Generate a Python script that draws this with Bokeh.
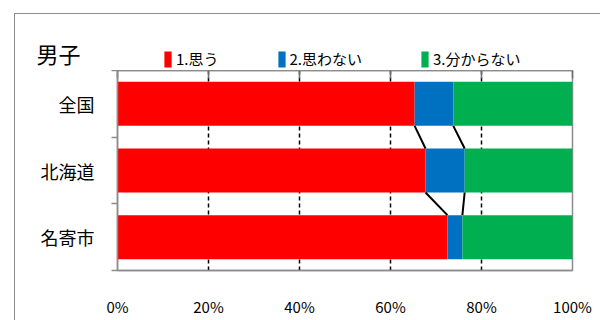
from bokeh.plotting import figure
from bokeh.layouts import column
from bokeh.models import (ColumnDataSource, Range1d, FixedTicker, LinearAxis, Legend, LegendItem,
                          Label, InlineStyleSheet, Plot)
from bokeh.embed import file_html
from bokeh.resources import INLINE

# ---- data ----
categories = ["全国", "北海道", "名寄市"]
series_names = ["1.思う", "2.思わない", "3.分からない"]
omou = [65.3, 67.7, 72.5]
omowanai = [8.5, 8.6, 3.3]
wakaranai = [26.2, 23.7, 24.2]
colors = ["#FF0000", "#0070C0", "#00B050"]
x_ticks = [0, 20, 40, 60, 80, 100]
x_tick_labels = ["0%", "20%", "40%", "60%", "80%", "100%"]
chart_title = "男子"

FONT = "Noto Sans CJK JP"
BAR_H = 0.66
TOP_H = 70

ypos = [i + 0.5 for i in range(len(categories))]
src = ColumnDataSource(dict(y=ypos, s0=omou, s1=omowanai, s2=wakaranai))

# ---------------- header strip: title + legend ----------------
head = figure(width=600, height=TOP_H, output_backend="svg", toolbar_location=None,
              x_range=Range1d(0, 600), y_range=Range1d(TOP_H, 0),
              min_border=0, min_border_left=0, min_border_right=0,
              min_border_top=0, min_border_bottom=0,
              x_axis_location=None, y_axis_location=None)
head.xgrid.visible = False
head.ygrid.visible = False
head.outline_line_color = None
head.background_fill_alpha = 0
head.border_fill_alpha = 0

# hidden renderers that only supply the legend keys
key_renderers = head.hbar_stack(["s0", "s1", "s2"], y="y", height=BAR_H, source=src,
                                color=colors, line_color=None, visible=False)
lg = Legend(items=[LegendItem(label=n, renderers=[r]) for n, r in zip(series_names, key_renderers)],
            orientation="horizontal", location=(163, TOP_H - 69), click_policy="none",
            glyph_width=9, glyph_height=20, label_standoff=4, spacing=58, padding=0, margin=0,
            border_line_color=None, background_fill_alpha=0,
            label_text_font=FONT, label_text_font_size="15px", label_text_color="black")
head.add_layout(lg, "center")
head.add_layout(Label(x=36, y=52, text=chart_title, text_font=FONT, text_font_size="22px",
                      text_align="left", text_baseline="middle", text_color="black"))

# ---------------- main chart ----------------
fig = figure(width=600, height=320 - TOP_H, output_backend="svg", toolbar_location=None,
             x_range=Range1d(0, 100), y_range=Range1d(len(categories), 0),
             min_border_left=117, min_border_right=28, min_border_top=0, min_border_bottom=50,
             x_axis_location=None, y_axis_location=None)
fig.background_fill_color = "white"
fig.border_fill_alpha = 0
fig.outline_line_color = "#8c8c8c"
fig.outline_line_width = 1.5

fig.hbar_stack(["s0", "s1", "s2"], y="y", height=BAR_H, source=src,
               color=colors, line_color=None)

# connector (series) lines between bars
cum1 = list(omou)
cum2 = [a + b for a, b in zip(omou, omowanai)]
for cum in (cum1, cum2):
    fig.segment(x0=cum[:-1], y0=[y + BAR_H / 2 for y in ypos[:-1]],
                x1=cum[1:], y1=[y - BAR_H / 2 for y in ypos[1:]],
                line_color="black", line_width=2)

# grid
fig.ygrid.visible = False
fig.xgrid.ticker = FixedTicker(ticks=x_ticks[1:])
fig.xgrid.grid_line_color = "black"
fig.xgrid.grid_line_dash = "4 3"
fig.xgrid.grid_line_width = 1.5

# bottom axis (labels only)
xb = LinearAxis(ticker=FixedTicker(ticks=x_ticks),
                major_label_overrides={t: l for t, l in zip(x_ticks, x_tick_labels)})
xb.axis_line_color = "#8c8c8c"
xb.axis_line_width = 1.5
xb.major_tick_line_color = None
xb.major_tick_out = 0
xb.major_tick_in = 0
xb.minor_tick_line_color = None
xb.major_label_standoff = 25
xb.major_label_text_font = FONT
xb.major_label_text_font_size = "15px"
xb.major_label_text_color = "black"
fig.add_layout(xb, "below")

# top axis (line + ticks)
xt = LinearAxis(ticker=FixedTicker(ticks=x_ticks))
xt.axis_line_color = "#8c8c8c"
xt.axis_line_width = 1.5
xt.major_tick_line_color = "#6e6e6e"
xt.major_tick_line_width = 1.5
xt.major_tick_in = 8
xt.major_tick_out = 0
xt.minor_tick_line_color = None
xt.major_label_text_font_size = "0px"
xt.major_label_text_color = None
xt.major_label_standoff = 0
fig.add_layout(xt, "above")

# left axis (category labels)
ya = LinearAxis(ticker=FixedTicker(ticks=ypos, minor_ticks=list(range(len(categories) + 1))),
                major_label_overrides={y: c for y, c in zip(ypos, categories)})
ya.axis_line_color = "#8c8c8c"
ya.axis_line_width = 1.5
ya.major_tick_line_color = None
ya.major_tick_out = 0
ya.major_tick_in = 0
ya.minor_tick_line_color = "#8c8c8c"
ya.minor_tick_line_width = 1.5
ya.minor_tick_out = 6
ya.minor_tick_in = 0
ya.major_label_standoff = 17
ya.major_label_text_font = FONT
ya.major_label_text_font_size = "18px"
ya.major_label_text_color = "black"
fig.add_layout(ya, "left")

# keep the header strip's frame independent of the chart's frame
if "frame_align" in Plot.properties():
    head.frame_align = False
    fig.frame_align = False
    p = column(head, fig, spacing=0)
else:
    p = column(column(head, spacing=0), fig, spacing=0)

# outer chart border (CSS overlay, left and top edges visible in the window)
p.stylesheets = [InlineStyleSheet(css="""
:host { position: relative; }
:host::after {
  content: ""; position: absolute; left: 14px; top: 13px;
  width: calc(100% - 14px); height: calc(100% - 13px);
  border-left: 1.5px solid #8c8c8c; border-top: 1.5px solid #8c8c8c;
  box-sizing: border-box; pointer-events: none;
}
""")]

open("out.html", "w").write(file_html(p, INLINE))
